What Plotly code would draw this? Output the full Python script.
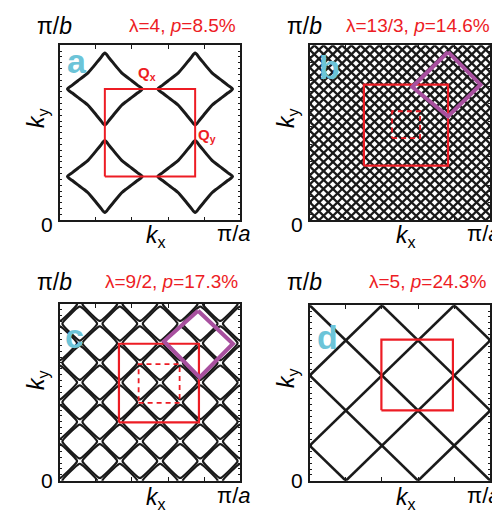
import plotly.graph_objects as go

# ---------------- data (units of pi/a and pi/b) ----------------
panel_letters = ["a", "b", "c", "d"]
lambda_labels = ["λ=4, <i>p</i>=8.5%", "λ=13/3, <i>p</i>=14.6%",
                 "λ=9/2, <i>p</i>=17.3%", "λ=5, <i>p</i>=24.3%"]

# panel a: four star-shaped pockets
a_pocket_cx = [0.25, 0.75, 0.25, 0.75]
a_pocket_cy = [0.25, 0.25, 0.75, 0.75]
a_pocket_hx = 0.207
a_pocket_hy = 0.206
a_shape_u = [1.00, 0.87, 0.72, 0.58, 0.45, 0.34, 0.23, 0.11, 0.00,
             -0.11, -0.23, -0.34, -0.45, -0.58, -0.72, -0.87, -1.00,
             -0.87, -0.72, -0.58, -0.45, -0.34, -0.23, -0.11, 0.00,
             0.11, 0.23, 0.34, 0.45, 0.58, 0.72, 0.87, 1.00]
a_shape_v = [0.00, 0.11, 0.23, 0.34, 0.45, 0.58, 0.72, 0.87, 1.00,
             0.87, 0.72, 0.58, 0.45, 0.34, 0.23, 0.11, 0.00,
             -0.11, -0.23, -0.34, -0.45, -0.58, -0.72, -0.87, -1.00,
             -0.87, -0.72, -0.58, -0.45, -0.34, -0.23, -0.11, 0.00]
a_square_x = [0.25, 0.75, 0.75, 0.25, 0.25]
a_square_y = [0.25, 0.25, 0.75, 0.75, 0.25]

# panel b: dense diagonal mesh (line offsets of kx+ky and kx-ky)
b_sum_offsets = [0.051, 0.103, 0.154, 0.205, 0.256, 0.308, 0.359, 0.410, 0.462, 0.513,
                 0.564, 0.615, 0.667, 0.718, 0.769, 0.821, 0.872, 0.923, 0.974, 1.026,
                 1.077, 1.128, 1.179, 1.231, 1.282, 1.333, 1.385, 1.436, 1.487, 1.538,
                 1.590, 1.641, 1.692, 1.744, 1.795, 1.846, 1.897, 1.949]
b_diff_offsets = [-0.974, -0.923, -0.872, -0.821, -0.769, -0.718, -0.667, -0.615, -0.564,
                  -0.513, -0.462, -0.410, -0.359, -0.308, -0.256, -0.205, -0.154, -0.103,
                  -0.051, 0.000, 0.051, 0.103, 0.154, 0.205, 0.256, 0.308, 0.359, 0.410,
                  0.462, 0.513, 0.564, 0.615, 0.667, 0.718, 0.769, 0.821, 0.872, 0.923, 0.974]
b_square_x = [0.300, 0.766, 0.766, 0.300, 0.300]
b_square_y = [0.312, 0.312, 0.775, 0.775, 0.312]
b_dash_x = [0.456, 0.611, 0.611, 0.456, 0.456]
b_dash_y = [0.470, 0.470, 0.623, 0.623, 0.470]
b_diamond_x = [0.766, 0.946, 0.766, 0.568, 0.766]
b_diamond_y = [0.962, 0.775, 0.594, 0.762, 0.962]

# panel c: tiling of diamond pockets
c_grid = [0.000, 0.111, 0.222, 0.333, 0.444, 0.556, 0.667, 0.778, 0.889, 1.000]
c_pocket_h = 0.100
c_shape_u = [0.95, 0.04, -0.04, -0.95, -0.95, -0.04, 0.04, 0.95, 0.95]
c_shape_v = [0.04, 0.95, 0.95, 0.04, -0.04, -0.95, -0.95, -0.04, 0.04]
c_square_x = [0.328, 0.771, 0.771, 0.328, 0.328]
c_square_y = [0.330, 0.330, 0.775, 0.775, 0.330]
c_dash_x = [0.437, 0.664, 0.664, 0.437, 0.437]
c_dash_y = [0.440, 0.440, 0.660, 0.660, 0.440]
c_diamond_x = [0.766, 0.959, 0.775, 0.577, 0.766]
c_diamond_y = [0.962, 0.775, 0.585, 0.789, 0.962]

# panel d: diamond network
d_sum_offsets = [0.2, 0.6, 1.0, 1.4, 1.8]
d_diff_offsets = [-0.6, -0.2, 0.2, 0.6]
d_square_x = [0.397, 0.793, 0.793, 0.397, 0.397]
d_square_y = [0.401, 0.401, 0.804, 0.804, 0.401]

# ---------------- styling ----------------
BLACK = "#1a1a1a"
RED = "#ed1c24"
MAGENTA = "#a8509f"
CYAN = "#6cc4d8"
FONT = "Liberation Sans, Arial, sans-serif"


def seg_sum(c):
    x0, x1 = max(0.0, c - 1.0), min(1.0, c)
    return [x0, x1], [c - x0, c - x1]


def seg_diff(c):
    x0, x1 = max(0.0, c), min(1.0, 1.0 + c)
    return [x0, x1], [x0 - c, x1 - c]


def network(sums, diffs):
    xs, ys = [], []
    for c in sums:
        sx, sy = seg_sum(c)
        xs += sx + [None]
        ys += sy + [None]
    for c in diffs:
        sx, sy = seg_diff(c)
        xs += sx + [None]
        ys += sy + [None]
    return xs, ys


fig = go.Figure()


def add_line(xs, ys, axis, color, width, dash=None, shape="linear"):
    fig.add_trace(go.Scatter(
        x=xs, y=ys, mode="lines", xaxis="x" + axis, yaxis="y" + axis,
        line=dict(color=color, width=width, dash=dash, shape=shape, smoothing=0.8),
        hoverinfo="skip", showlegend=False, connectgaps=False))


# panel a
for cx, cy in zip(a_pocket_cx, a_pocket_cy):
    add_line([cx + a_pocket_hx * u for u in a_shape_u],
             [cy + a_pocket_hy * v for v in a_shape_v], "", BLACK, 3, shape="spline")
add_line(a_square_x, a_square_y, "", RED, 2)

# panel b
bx, by = network(b_sum_offsets, b_diff_offsets)
add_line(bx, by, "2", BLACK, 2.3)
add_line(b_square_x, b_square_y, "2", RED, 2.2)
add_line(b_dash_x, b_dash_y, "2", RED, 1.8, dash="5px,4px")
add_line(b_diamond_x, b_diamond_y, "2", MAGENTA, 4)

# panel c
cxs, cys = [], []
for i, gx in enumerate(c_grid):
    for j, gy in enumerate(c_grid):
        if (i + j) % 2 == 1:
            cxs += [gx + c_pocket_h * u for u in c_shape_u] + [None]
            cys += [gy + c_pocket_h * v for v in c_shape_v] + [None]
add_line(cxs, cys, "3", BLACK, 2.2, shape="spline")
add_line(c_square_x, c_square_y, "3", RED, 2.2)
add_line(c_dash_x, c_dash_y, "3", RED, 1.8, dash="5px,4px")
add_line(c_diamond_x, c_diamond_y, "3", MAGENTA, 4)

# panel d
dx, dy = network(d_sum_offsets, d_diff_offsets)
add_line(dx, dy, "4", BLACK, 2.6)
add_line(d_square_x, d_square_y, "4", RED, 2.2)

# ---------------- layout ----------------
W, H = 500, 512
boxes = {  # left, right, top, bottom in pixels
    "": (51.7, 232.3, 37.3, 212.3),
    "2": (301.7, 482.3, 37.3, 212.3),
    "3": (51.7, 232.3, 296.0, 472.7),
    "4": (301.7, 482.3, 297.3, 472.7),
}
layout = dict(width=W, height=H, margin=dict(l=0, r=0, t=0, b=0),
              paper_bgcolor="white", plot_bgcolor="white",
              font=dict(family=FONT, color="black", size=12))
for key, (l, r, t, b) in boxes.items():
    common = dict(range=[0, 1], showgrid=False, zeroline=False, showline=True,
                  linecolor=BLACK, linewidth=1.5, mirror="ticks", ticks="inside",
                  tickcolor=BLACK, showticklabels=False, fixedrange=True)
    layout["xaxis" + key] = dict(common, domain=[l / W, r / W], tick0=0, dtick=0.2,
                                 ticklen=4, tickwidth=1,
                                 anchor="y" + (key if key else ""))
    layout["yaxis" + key] = dict(common, domain=[1 - b / H, 1 - t / H], tick0=0,
                                 dtick=1 / 30, ticklen=3, tickwidth=0.8,
                                 anchor="x" + (key if key else ""))

ann = []


def txt(text, px, py, size, color="black", xanchor="center", angle=0, bold=False):
    ann.append(dict(text=("<b>%s</b>" % text) if bold else text, x=px / W, y=1 - py / H,
                    xref="paper", yref="paper", xanchor=xanchor, yanchor="middle",
                    showarrow=False, textangle=angle, borderpad=0,
                    font=dict(family=FONT, size=size, color=color)))


label_pos = [  # (ox, top-text y, ky y, zero y, kx y, pi/a y, red right x, letter x, letter y)
    (0, 17.5, 110, 216, 228, 225.5, 229, 69, 53),
    (250, 17.5, 110, 216, 228, 225.5, 483, 321, 59),
    (0, 273.5, 372, 472, 490, 487.5, 231, 66, 328),
    (250, 273.5, 370, 472, 490, 487.5, 479, 319, 329),
]
for k, (ox, ty, kyy, zy, kxy, pay, rx, lx, ly) in enumerate(label_pos):
    txt("π/<i>b</i>", ox + 46, ty, 23)
    txt(lambda_labels[k], rx, ty, 19, RED, xanchor="right")
    txt("<i>k</i><sub>y</sub>", ox + 29, kyy, 23, angle=-90)
    txt("0", ox + 39, zy, 21)
    txt("<i>k</i><sub>x</sub>", ox + 148, kxy, 23)
    txt("π/<i>a</i>", ox + 226, pay, 22)
    txt(panel_letters[k], lx, ly, 34, CYAN, bold=True)

txt("Q<sub>x</sub>", 139, 65, 15, RED, bold=True)
txt("Q<sub>y</sub>", 199, 127, 15, RED, bold=True)

layout["annotations"] = ann
fig.update_layout(**layout)
fig.write_html("out.html")
